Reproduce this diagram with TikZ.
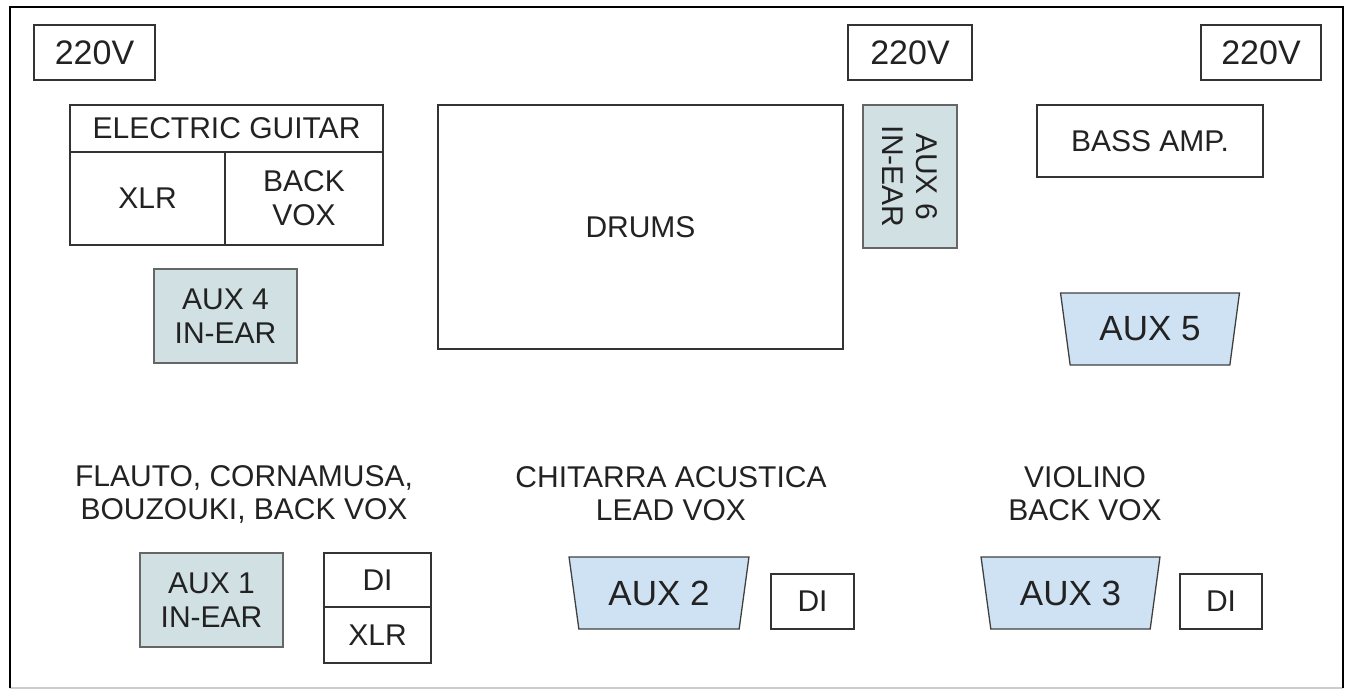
\documentclass[tikz,border=0pt]{standalone}
\usepackage{fontspec}
\setmainfont{Liberation Sans}
\usepackage{xcolor}
\usetikzlibrary{shapes.geometric}

\definecolor{inearfill}{HTML}{D0E0E3}
\definecolor{monfill}{HTML}{CFE2F3}
\definecolor{txtgray}{HTML}{222222}

\begin{document}
\begin{tikzpicture}[
    x=1pt, y=-1pt,
    every node/.style={text=txtgray, inner sep=0pt, outer sep=0pt, align=center, font=\fontsize{30}{34}\selectfont},
    box/.style={draw=black!80, line width=1.3pt, fill=white},
    plug/.style={box, font=\fontsize{34}{38}\selectfont},
    inear/.style={draw=black!60, line width=2.8pt, fill=inearfill, minimum width=143pt, minimum height=94pt},
    wedge/.style={trapezium, trapezium stretches=true, shape border rotate=180, trapezium angle=76, draw=black!75, line width=1.3pt, fill=monfill, minimum width=179pt, minimum height=72pt, font=\fontsize{35}{40}\selectfont},
    label/.style={font=\fontsize{30}{33}\selectfont}
]
    \useasboundingbox (0,0) rectangle (1346,691);
    % Stage frame
    \draw[black!20, line width=1.5pt] (10,688) -- (1343,688);
    \draw[black, line width=2.5pt] (10,688) -- (10,7) -- (1343,7) -- (1343,688);

    % Power
    \node[plug, minimum width=121pt, minimum height=55pt] (pw_left) at (94.5,52.5) {220V};
    \node[plug, minimum width=124pt, minimum height=55pt] (pw_mid) at (910,52.5) {220V};
    \node[plug, minimum width=120pt, minimum height=55pt] (pw_right) at (1261,52.5) {220V};

    % Back line
    \node[box, minimum width=313pt, minimum height=47pt] (eg_head) at (226.5,128.5) {ELECTRIC GUITAR};
    \node[box, minimum width=155pt, minimum height=93pt] (eg_xlr) at (147.5,198.5) {XLR};
    \node[box, minimum width=158pt, minimum height=93pt] (eg_vox) at (304,198.5) {BACK\\VOX};
    \node[inear] (aux4) at (225.5,316) {AUX 4\\IN-EAR};
    \node[box, minimum width=405pt, minimum height=244pt] (drums) at (640.5,227) {DRUMS};
    \node[inear, rotate=-90] (aux6) at (910,176.5) {AUX 6\\IN-EAR};
    \node[box, minimum width=226pt, minimum height=72pt] (bass) at (1150,141) {BASS AMP.};
    \node[wedge] (aux5) at (1150,329) {AUX 5};

    % Front line
    \node[label] (lbl_flute) at (244,494) {FLAUTO, CORNAMUSA,\\BOUZOUKI, BACK VOX};
    \node[label] (lbl_guitar) at (671,494) {CHITARRA ACUSTICA\\LEAD VOX};
    \node[label] (lbl_violin) at (1085,494) {VIOLINO\\BACK VOX};

    \node[inear] (aux1) at (211.5,600) {AUX 1\\IN-EAR};
    \node[box, minimum width=107pt, minimum height=54pt] (di1) at (377.5,580) {DI};
    \node[box, minimum width=107pt, minimum height=56pt] (xlr1) at (377.5,635) {XLR};
    \node[wedge, minimum width=180pt] (aux2) at (659,593) {AUX 2};
    \node[box, minimum width=83pt, minimum height=55pt] (di2) at (812.5,601.5) {DI};
    \node[wedge] (aux3) at (1070.5,593) {AUX 3};
    \node[box, minimum width=82pt, minimum height=55pt] (di3) at (1221,601.5) {DI};

\end{tikzpicture}
\end{document}
